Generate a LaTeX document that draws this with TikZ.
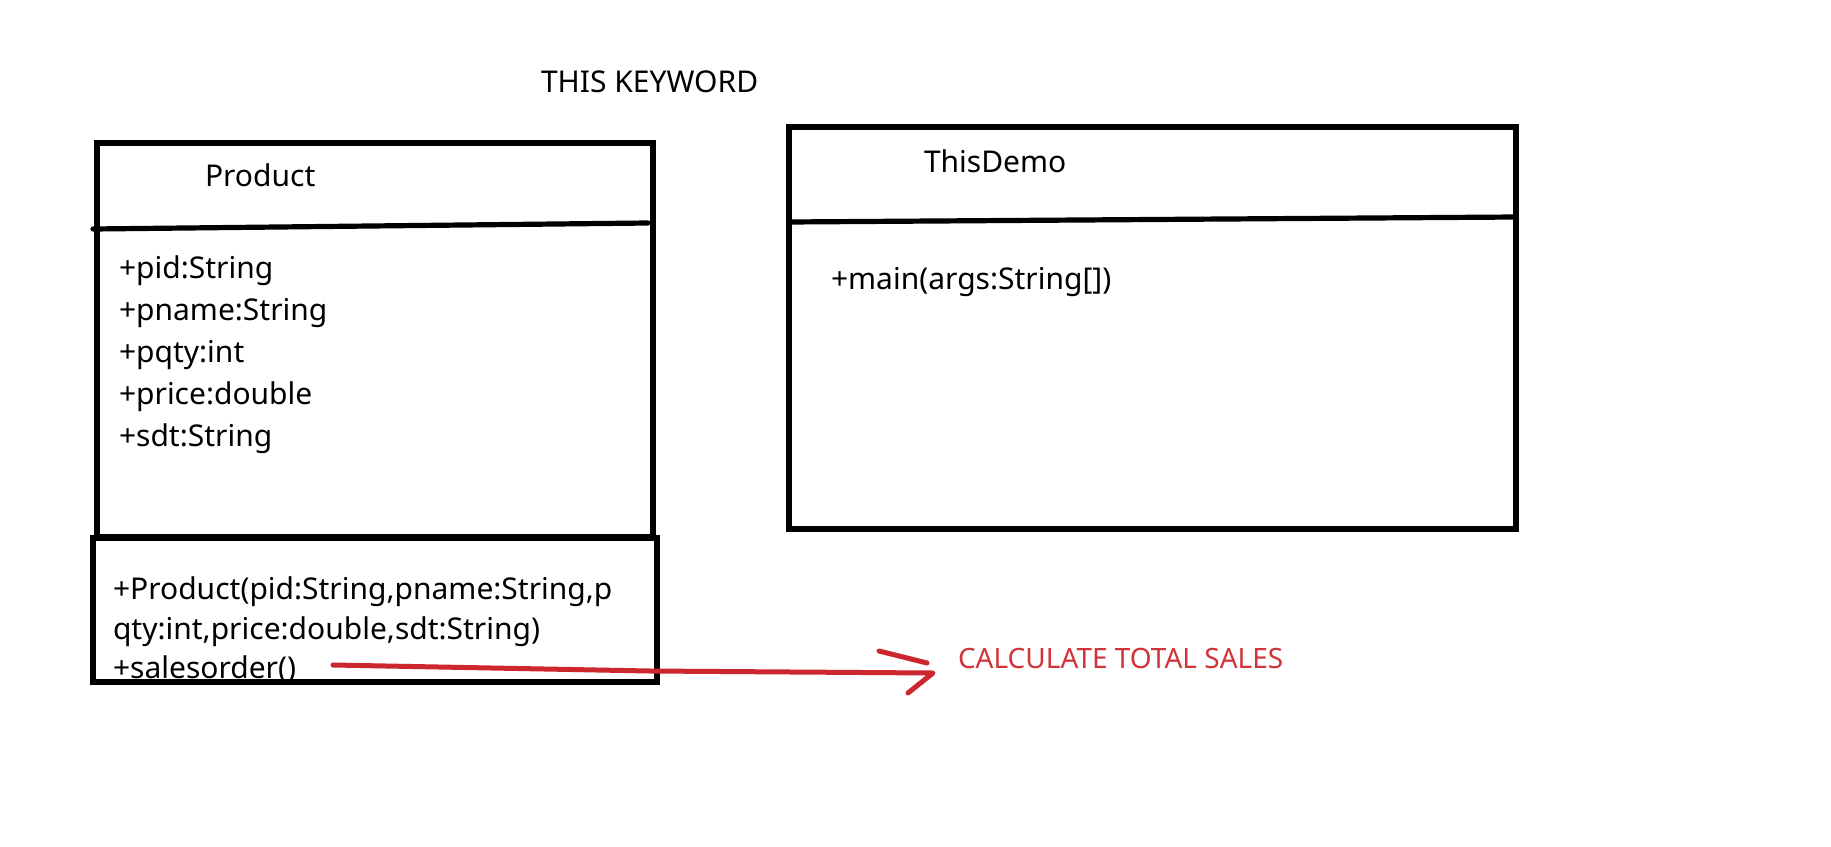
\documentclass[tikz,border=0pt]{standalone}
\usepackage{fontspec}
\setmainfont{Noto Sans}
\usetikzlibrary{calc}
\definecolor{penred}{RGB}{204,38,46}
\definecolor{txtred}{RGB}{209,52,56}
\tikzset{
  umlbox/.style={draw=black, line width=5.4pt, rectangle, inner sep=0pt, outer sep=0pt, anchor=north west},
  divider/.style={draw=black, line width=5.2pt, line cap=round},
  lbl/.style={anchor=base west, inner sep=0pt, outer sep=0pt, font=\fontsize{30}{36}\selectfont, text=black},
  redlbl/.style={lbl, font=\fontsize{28}{34}\selectfont, text=txtred},
  redpen/.style={draw=penred, line width=5pt, line cap=round, line join=round},
}
\begin{document}
\begin{tikzpicture}[x=1pt,y=-1pt]
\useasboundingbox (0,0) rectangle (1831,846);
\fill[white] (0,0) rectangle (1831,846);

\node[lbl] (title) at (541,92) {THIS KEYWORD};

% Product class
\node[umlbox, minimum width=556pt, minimum height=394pt] (product) at (97,143) {};
\draw[divider] (93,229) -- (648,223);
\node[lbl] (pname) at (205,186) {Product};
\node[lbl] (a1) at (119,278) {+pid:String};
\node[lbl] (a2) at (119,320) {+pname:String};
\node[lbl] (a3) at (119,362) {+pqty:int};
\node[lbl] (a4) at (119,404) {+price:double};
\node[lbl] (a5) at (119,446) {+sdt:String};

\node[umlbox, minimum width=564pt, minimum height=144pt] (methods) at (93,538) {};
\node[lbl] (m1) at (113,599) {+Product(pid:String,pname:String,p};
\node[lbl] (m2) at (113,639) {qty:int,price:double,sdt:String)};
\node[lbl] (m3) at (113,678) {+salesorder()};

% ThisDemo class
\node[umlbox, minimum width=727pt, minimum height=402pt] (demo) at (789,127) {};
\draw[divider] (789,222) -- (1516,217);
\node[lbl] (dname) at (924,172) {ThisDemo};
\node[lbl] (dmain) at (831,289) {+main(args:String[])};

% red arrow
\coordinate (arrowstart) at (333,665);
\coordinate (arrowtip) at (933,673);
\draw[redpen] (arrowstart) -- (650,671) -- (arrowtip) -- (908,693);
\draw[redpen] (879,651) -- (927,663);
\node[redlbl] (note) at (958,668) {CALCULATE TOTAL SALES};
\end{tikzpicture}
\end{document}
